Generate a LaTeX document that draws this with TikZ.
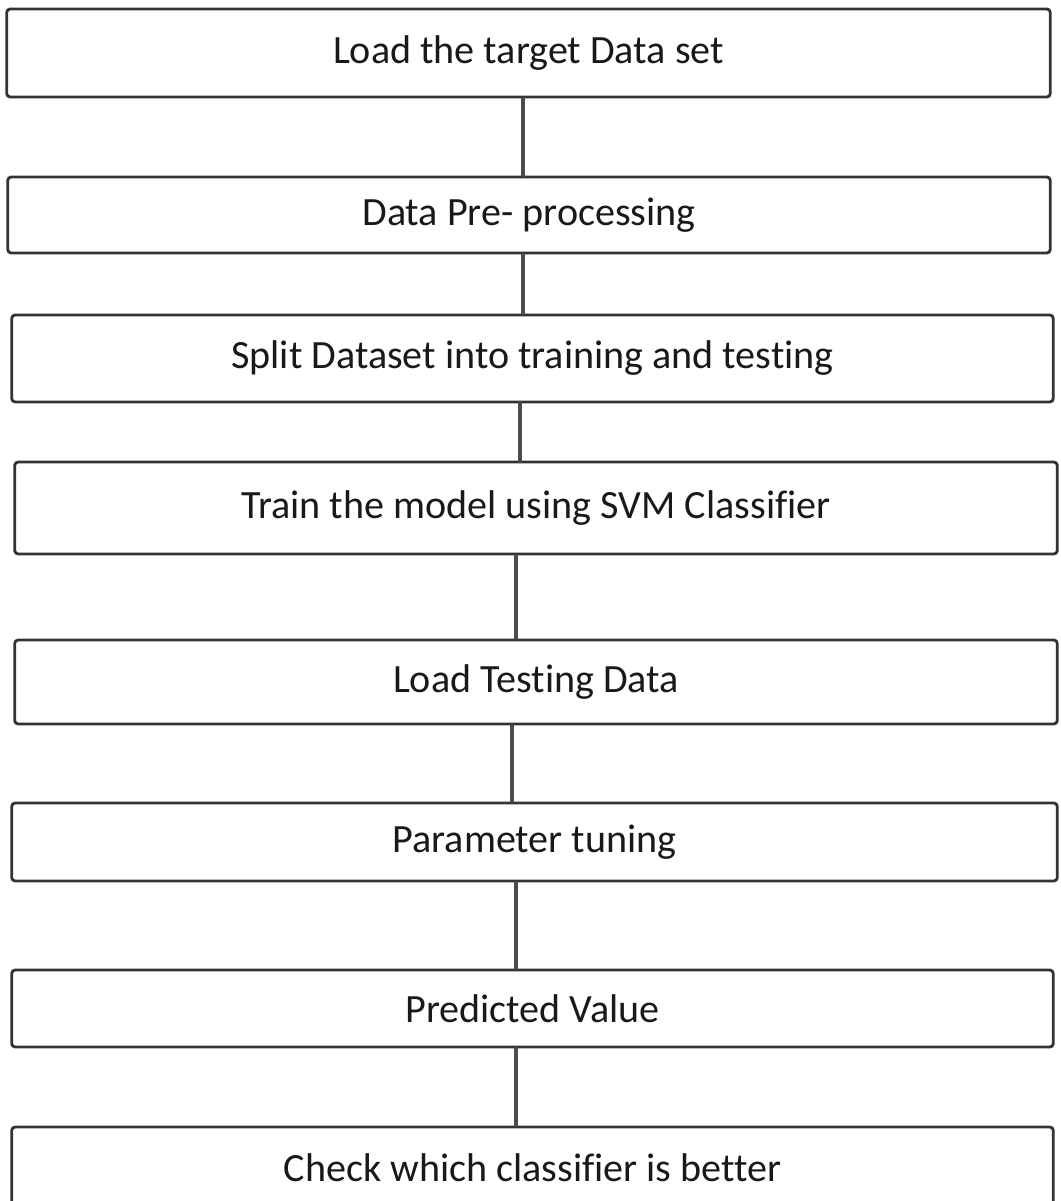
\documentclass[tikz,border=0pt]{standalone}
\usepackage{fontspec}
\setmainfont{Carlito}[Ligatures=NoCommon]
\begin{document}
\begin{tikzpicture}[x=0.01cm,y=-0.01cm,font=\fontsize{11.4pt}{13pt}\selectfont,line join=round,line cap=round]
	\tikzset{stepbox/.style={draw=black!80,line width=0.8pt,rounded corners=1pt,fill=white,text=black!90,inner sep=0pt},
		link/.style={draw=black!70,line width=0.9pt}}
	\useasboundingbox[fill=white] (0,0) rectangle (1060,1201);
	% steps, top to bottom
	\node[stepbox,minimum width=10.43cm,minimum height=0.88cm] (load) at (528.5,53) {Load the target Data set};
	\node[stepbox,minimum width=10.42cm,minimum height=0.76cm] (prep) at (529,215) {Data Pre- processing};
	\node[stepbox,minimum width=10.41cm,minimum height=0.87cm] (split) at (532.5,358.5) {Split Dataset into training and testing};
	\node[stepbox,minimum width=10.42cm,minimum height=0.92cm] (train) at (536,508) {Train the model using SVM Classifier};
	\node[stepbox,minimum width=10.42cm,minimum height=0.84cm] (test) at (536,682) {Load Testing Data};
	\node[stepbox,minimum width=10.45cm,minimum height=0.78cm] (tune) at (534.5,842) {Parameter tuning};
	\node[stepbox,minimum width=10.41cm,minimum height=0.77cm] (pred) at (532.5,1008.5) {Predicted Value};
	\node[stepbox,minimum width=10.41cm,minimum height=0.82cm] (check) at (532.5,1168) {Check which classifier is better};
	% connectors
	\foreach \a/\b/\dx in {load/prep/-0.055,prep/split/-0.06,split/train/-0.125,train/test/-0.2,test/tune/-0.24,tune/pred/-0.185,pred/check/-0.165}
	\draw[link] ([xshift=\dx cm]\a.south) -- ([xshift=\dx cm]\a.south |- \b.north);
\end{tikzpicture}
\end{document}
